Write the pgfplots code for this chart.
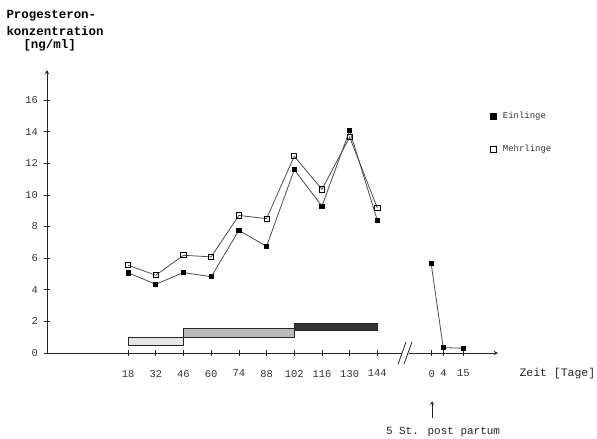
\documentclass[border=0pt]{standalone}
\usepackage{pgfplots}
\pgfplotsset{compat=1.18}
\usepackage{fontspec}
\setmainfont{Liberation Mono}
\begin{document}
\begin{tikzpicture}
\useasboundingbox (0,0) rectangle (597bp,439bp);
\begin{axis}[
  at={(47bp,86bp)}, anchor=south west,
  width=451bp, height=283bp, scale only axis,
  xmin=-23, xmax=205, ymin=0, ymax=17.9,
  axis x line=bottom, axis y line=left,
  axis line style={line width=0.9pt, black!85, -stealth},
  xtick={18,32,46,60,74,88,102,116,130,144,171.5,177.5,187.5},
  xticklabels={18,32,46,60,74,88,102,116,130,144,0,4,15},
  ytick={0,2,...,16},
  tick align=center, major tick length=5bp,
  tick style={black!85, line width=0.7pt},
  /pgf/number format/assume math mode=true,
  ticklabel style={font=\fontsize{10.5}{11}\selectfont, text=black!80},
  xticklabel style={yshift=-11bp},
  yticklabel style={xshift=-3bp},
  clip=false,
  legend style={at={(0.975,0.865)}, anchor=north west, draw=none, fill=none,
    font=\fontsize{9}{9}\selectfont, row sep=21bp, column sep=5bp, text=black!80},
  legend cell align=left,
]
% bars
\addplot[draw=black!85, line width=0.6pt, fill=gray!20, forget plot] coordinates {(18,0.5) (46,0.5) (46,1.0) (18,1.0)} -- cycle;
\addplot[draw=black!85, line width=0.6pt, fill=gray!55, forget plot] coordinates {(46,1.0) (102,1.0) (102,1.56) (46,1.56)} -- cycle;
\addplot[draw=black!85, line width=0.6pt, fill=black!80, forget plot] coordinates {(102,1.45) (144,1.45) (144,1.91) (102,1.91)} -- cycle;
% Mehrlinge
\addplot[black!70, line width=0.8pt, mark=square, mark size=2.6pt, mark options={fill=white, solid, black}, forget plot] coordinates {
(18,5.55) (32,4.92) (46,6.18) (60,6.08) (74,8.7) (88,8.5) (102,12.45) (116,10.35) (130,13.65) (144,9.17)};
% Einlinge
\addplot[black!70, line width=0.8pt, mark=square*, mark size=2.1pt, mark options={fill=black, black}, forget plot] coordinates {
(18,5.07) (32,4.35) (46,5.09) (60,4.82) (74,7.76) (88,6.75) (102,11.59) (116,9.29) (130,14.07) (144,8.39)};
\addplot[black!70, line width=0.8pt, mark=square*, mark size=2.1pt, mark options={fill=black, black}, forget plot] coordinates {
(171.2,5.66) (177.3,0.34) (187.5,0.3)};
\addlegendimage{only marks, mark=square*, mark size=3pt, black}
\addlegendentry{Einlinge}
\addlegendimage{only marks, mark=square, mark size=3pt, black}
\addlegendentry{Mehrlinge}
% axis break
\draw[white, line width=3pt] (axis cs:156.5,0) -- (axis cs:160,0);
\draw[black!85, line width=0.8pt] (axis cs:154.5,-0.7) -- (axis cs:158.5,0.7);
\draw[black!85, line width=0.8pt] (axis cs:157.5,-0.7) -- (axis cs:161.5,0.7);
\end{axis}
\node[anchor=west, font=\bfseries\fontsize{12.5}{13}\selectfont] at (3bp,423bp) {Progesteron-};
\node[anchor=west, font=\bfseries\fontsize{12.5}{13}\selectfont] at (3bp,408bp) {konzentration};
\node[anchor=west, font=\bfseries\fontsize{12.5}{13}\selectfont] at (20bp,394bp) {[ng/ml]};
\node[anchor=west, font=\fontsize{11.5}{12}\selectfont, text=black!85] at (516bp,65bp) {Zeit [Tage]};
\draw[-stealth, line width=0.8pt, black!85] (432bp,21bp) -- (432bp,38bp);
\node[font=\fontsize{11}{12}\selectfont, text=black!85] at (443bp,7bp) {5 St. post partum};
\end{tikzpicture}
\end{document}
